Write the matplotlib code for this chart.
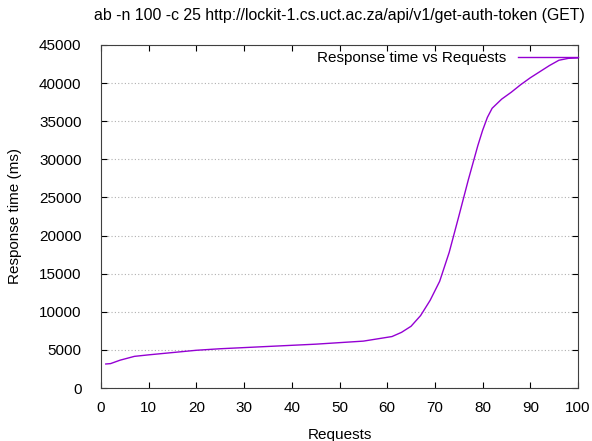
import matplotlib
matplotlib.use("Agg")
from matplotlib import pyplot as plt

plt.rcParams['font.family'] = ['Liberation Sans', 'DejaVu Sans']

# requests (sorted) vs response time in ms
requests = [1, 2, 4, 7, 10, 15, 20, 25, 30, 35, 40, 45, 50, 55, 58, 61, 63,
            65, 67, 69, 71, 73, 75, 77, 79, 80, 81, 82, 84, 86, 88, 90, 92,
            94, 96, 98, 100]
response_ms = [3150, 3200, 3650, 4150, 4350, 4650, 4950, 5150, 5300, 5450,
               5600, 5750, 5950, 6150, 6450, 6750, 7300, 8100, 9500, 11500,
               14000, 17800, 22500, 27300, 31800, 33800, 35500, 36700, 37900,
               38800, 39800, 40700, 41500, 42300, 43000, 43250, 43300]

title = "ab -n 100 -c 25 http://lockit-1.cs.uct.ac.za/api/v1/get-auth-token (GET)"

fig = plt.figure(figsize=(5.92, 4.41), dpi=100)
ax = fig.add_axes([101/592, 1 - 388/441, (578-101)/592, (388-45)/441])

ax.plot(requests, response_ms, color="#9400D3", lw=1, label="Response time vs Requests")

ax.set_xlim(0, 100)
ax.set_ylim(0, 45000)
ax.set_xticks(range(0, 101, 10))
ax.set_yticks(range(0, 45001, 5000))
ax.grid(axis="y", color="#b0b0b0", linestyle=(0, (1, 2)), lw=0.8)
ax.tick_params(direction="in", top=True, right=True, length=4, labelsize=11)
ax.tick_params(axis="y", pad=14)
ax.tick_params(axis="x", pad=9)
for s in ax.spines.values():
    s.set_color("#404040")

ax.set_xlabel("Requests", fontsize=11, labelpad=10)
ax.set_ylabel("Response time (ms)", fontsize=11, labelpad=12)
ax.set_title(title, fontsize=11.4, pad=18)

leg = ax.legend(loc="upper right", bbox_to_anchor=(1.0, 0.982), frameon=False,
                fontsize=11, handlelength=3.9, borderaxespad=0, borderpad=0,
                markerfirst=False, handletextpad=0.8)

fig.savefig("out.png", dpi=100)
